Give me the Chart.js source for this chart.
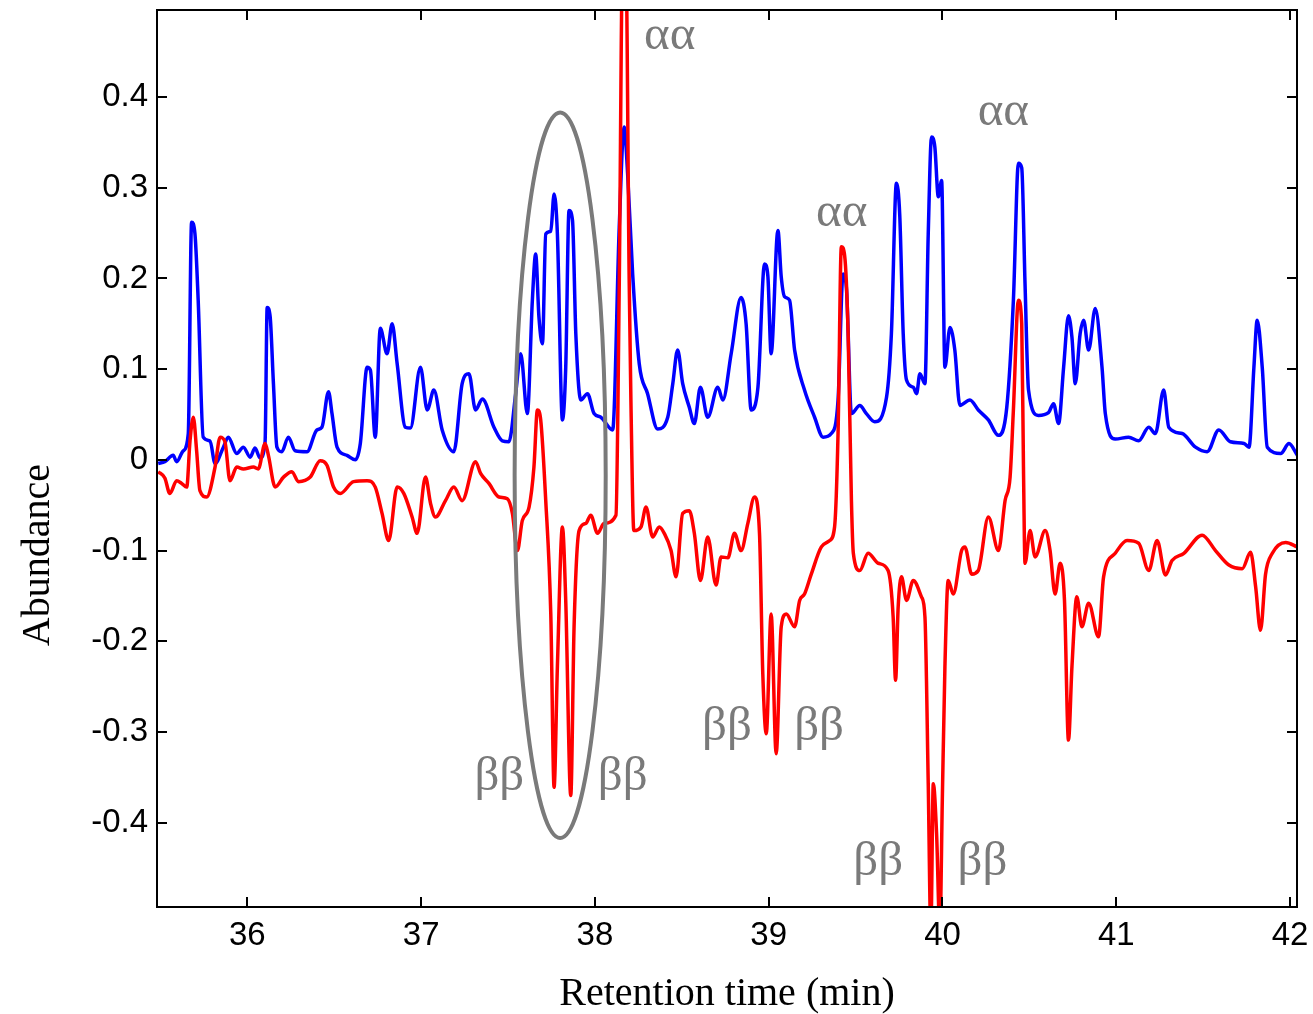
<!DOCTYPE html>
<html>
<head>
<meta charset="utf-8">
<title>Retention time vs abundance</title>
<script src="https://cdn.jsdelivr.net/npm/chart.js@4.4.1/dist/chart.umd.min.js"></script>
<style>
  html, body { margin: 0; padding: 0; background: #fff; }
  canvas { display: block; }
</style>
</head>
<body>
<canvas id="chromatogramCanvas" width="1313" height="1014"></canvas>
<script>
// Blue trace (upper chromatogram)
const blueTime = [
  35.487, 35.525, 35.573, 35.593, 35.631, 35.660, 35.679, 35.698, 35.717, 35.746,
  35.785, 35.814, 35.862, 35.890, 35.939, 35.977, 36.016, 36.044, 36.073, 36.102,
  36.114, 36.131, 36.150, 36.170, 36.198, 36.236, 36.275, 36.343, 36.400, 36.429,
  36.467, 36.487, 36.516, 36.573, 36.621, 36.650, 36.689, 36.708, 36.736, 36.765,
  36.804, 36.833, 36.862, 36.909, 36.938, 36.996, 37.035, 37.073, 37.121, 37.188,
  37.236, 37.275, 37.313, 37.352, 37.419, 37.467, 37.505, 37.544, 37.573, 37.611,
  37.640, 37.659, 37.678, 37.698, 37.717, 37.746, 37.765, 37.784, 37.813, 37.832,
  37.851, 37.871, 37.890, 37.919, 37.957, 37.995, 38.034, 38.102, 38.140, 38.168,
  38.188, 38.217, 38.255, 38.303, 38.361, 38.419, 38.448, 38.476, 38.505, 38.543,
  38.572, 38.607, 38.649, 38.707, 38.736, 38.784, 38.841, 38.870, 38.899, 38.938,
  38.976, 38.995, 39.014, 39.053, 39.072, 39.091, 39.120, 39.149, 39.206, 39.264,
  39.313, 39.360, 39.399, 39.428, 39.447, 39.476, 39.524, 39.562, 39.610, 39.678,
  39.706, 39.735, 39.754, 39.774, 39.793, 39.832, 39.851, 39.870, 39.899, 39.918,
  39.937, 39.956, 39.976, 39.995, 40.014, 40.043, 40.071, 40.100, 40.158, 40.206,
  40.264, 40.322, 40.370, 40.408, 40.437, 40.456, 40.475, 40.495, 40.552, 40.610,
  40.639, 40.668, 40.697, 40.725, 40.745, 40.764, 40.792, 40.812, 40.841, 40.879,
  40.918, 40.937, 40.994, 41.071, 41.129, 41.187, 41.225, 41.273, 41.302, 41.379,
  41.456, 41.523, 41.590, 41.657, 41.735, 41.764, 41.792, 41.811, 41.840, 41.869,
  41.946, 41.994, 42.042
];
const blueAbundance = [
  -0.004, -0.002, 0.005, -0.002, 0.010, 0.029, 0.262, 0.250, 0.176, 0.025,
  0.021, -0.004, 0.014, 0.025, 0.007, 0.014, 0.003, 0.013, 0.002, 0.020,
  0.168, 0.158, 0.084, 0.014, 0.009, 0.025, 0.010, 0.009, 0.033, 0.036,
  0.075, 0.051, 0.014, 0.005, 0.000, 0.018, 0.102, 0.099, 0.025, 0.145,
  0.117, 0.150, 0.106, 0.036, 0.035, 0.102, 0.055, 0.077, 0.033, 0.009,
  0.084, 0.095, 0.055, 0.067, 0.036, 0.021, 0.020, 0.073, 0.117, 0.051,
  0.176, 0.227, 0.157, 0.128, 0.249, 0.252, 0.293, 0.249, 0.044, 0.102,
  0.275, 0.264, 0.139, 0.066, 0.073, 0.051, 0.047, 0.033, 0.257, 0.367,
  0.316, 0.205, 0.106, 0.073, 0.034, 0.047, 0.084, 0.121, 0.084, 0.058,
  0.040, 0.080, 0.047, 0.080, 0.066, 0.117, 0.179, 0.150, 0.055, 0.080,
  0.216, 0.203, 0.117, 0.253, 0.202, 0.180, 0.176, 0.121, 0.077, 0.047,
  0.025, 0.029, 0.066, 0.205, 0.190, 0.051, 0.060, 0.051, 0.042, 0.069,
  0.139, 0.305, 0.270, 0.139, 0.088, 0.080, 0.073, 0.095, 0.084, 0.249,
  0.356, 0.345, 0.290, 0.308, 0.102, 0.146, 0.121, 0.060, 0.066, 0.055,
  0.044, 0.027, 0.058, 0.176, 0.327, 0.322, 0.194, 0.077, 0.049, 0.052,
  0.062, 0.040, 0.102, 0.159, 0.135, 0.084, 0.139, 0.154, 0.121, 0.167,
  0.102, 0.051, 0.023, 0.025, 0.021, 0.036, 0.029, 0.077, 0.036, 0.029,
  0.014, 0.009, 0.033, 0.020, 0.018, 0.014, 0.102, 0.154, 0.102, 0.014,
  0.007, 0.018, 0.005
];

// Red trace (lower chromatogram)
const redTime = [
  35.487, 35.525, 35.554, 35.593, 35.622, 35.651, 35.670, 35.689, 35.708, 35.727,
  35.766, 35.814, 35.843, 35.871, 35.900, 35.939, 35.977, 36.035, 36.063, 36.102,
  36.121, 36.160, 36.208, 36.256, 36.294, 36.362, 36.419, 36.458, 36.496, 36.535,
  36.611, 36.689, 36.736, 36.775, 36.813, 36.862, 36.900, 36.948, 36.977, 37.025,
  37.054, 37.082, 37.140, 37.188, 37.236, 37.313, 37.342, 37.390, 37.448, 37.496,
  37.525, 37.554, 37.582, 37.621, 37.649, 37.669, 37.688, 37.717, 37.746, 37.765,
  37.784, 37.813, 37.832, 37.861, 37.880, 37.909, 37.948, 37.976, 38.015, 38.053,
  38.121, 38.140, 38.159, 38.178, 38.197, 38.207, 38.224, 38.265, 38.294, 38.332,
  38.370, 38.399, 38.438, 38.467, 38.505, 38.543, 38.572, 38.607, 38.649, 38.697,
  38.726, 38.765, 38.803, 38.841, 38.880, 38.918, 38.947, 38.966, 38.986, 39.014,
  39.043, 39.072, 39.101, 39.149, 39.178, 39.206, 39.245, 39.303, 39.351, 39.379,
  39.399, 39.418, 39.437, 39.457, 39.476, 39.487, 39.524, 39.572, 39.630, 39.687,
  39.716, 39.730, 39.745, 39.764, 39.793, 39.832, 39.879, 39.899, 39.918, 39.933,
  39.947, 39.966, 39.985, 39.999, 40.014, 40.033, 40.062, 40.110, 40.129, 40.168,
  40.206, 40.264, 40.322, 40.360, 40.389, 40.408, 40.437, 40.456, 40.466, 40.475,
  40.504, 40.533, 40.591, 40.619, 40.648, 40.677, 40.702, 40.725, 40.745, 40.773,
  40.802, 40.841, 40.898, 40.927, 40.994, 41.062, 41.129, 41.187, 41.235, 41.283,
  41.321, 41.389, 41.494, 41.571, 41.648, 41.725, 41.773, 41.802, 41.830, 41.859,
  41.898, 41.975, 42.042
];
const redAbundance = [
  -0.013, -0.020, -0.037, -0.023, -0.026, -0.030, 0.021, 0.047, 0.010, -0.034,
  -0.041, -0.008, 0.025, 0.020, -0.023, -0.008, -0.010, -0.008, -0.010, 0.018,
  0.005, -0.030, -0.019, -0.013, -0.024, -0.019, -0.001, -0.006, -0.030, -0.037,
  -0.024, -0.023, -0.030, -0.059, -0.089, -0.030, -0.037, -0.063, -0.081, -0.019,
  -0.048, -0.063, -0.045, -0.030, -0.045, -0.002, -0.015, -0.026, -0.041, -0.043,
  -0.059, -0.100, -0.067, -0.052, -0.008, 0.055, 0.044, -0.045, -0.170, -0.361,
  -0.228, -0.074, -0.155, -0.370, -0.184, -0.078, -0.070, -0.061, -0.081, -0.070,
  -0.061, 0.194, 0.550, 0.550, 0.200, 0.066, -0.078, -0.074, -0.052, -0.085,
  -0.074, -0.081, -0.100, -0.129, -0.059, -0.056, -0.081, -0.133, -0.085, -0.138,
  -0.107, -0.108, -0.081, -0.100, -0.070, -0.041, -0.081, -0.236, -0.302, -0.170,
  -0.324, -0.184, -0.170, -0.184, -0.155, -0.148, -0.126, -0.096, -0.089, -0.074,
  0.029, 0.235, 0.225, 0.139, -0.045, -0.103, -0.122, -0.103, -0.114, -0.122,
  -0.173, -0.243, -0.162, -0.129, -0.155, -0.133, -0.151, -0.173, -0.357, -0.520,
  -0.357, -0.412, -0.520, -0.375, -0.228, -0.133, -0.148, -0.100, -0.096, -0.126,
  -0.122, -0.063, -0.100, -0.045, -0.019, 0.055, 0.176, 0.150, -0.008, -0.114,
  -0.078, -0.107, -0.078, -0.100, -0.148, -0.114, -0.155, -0.309, -0.228, -0.151,
  -0.184, -0.158, -0.195, -0.129, -0.103, -0.089, -0.092, -0.122, -0.089, -0.127,
  -0.111, -0.103, -0.083, -0.100, -0.116, -0.120, -0.102, -0.140, -0.188, -0.126,
  -0.103, -0.091, -0.096
];

// Axis ticks
const timeTicks = [36, 37, 38, 39, 40, 41, 42];
const abundanceTicks = [-0.4, -0.3, -0.2, -0.1, 0, 0.1, 0.2, 0.3, 0.4];

// Peak labels (placed in data units)
const labelText = ["αα", "αα", "αα", "ββ", "ββ", "ββ", "ββ", "ββ", "ββ"];
const labelTime = [38.43, 39.42, 40.35, 37.45, 38.16, 38.76, 39.29, 39.63, 40.23];
const labelAbundance = [0.467, 0.272, 0.383, -0.35, -0.35, -0.295, -0.295, -0.444, -0.444];

// Circled group of peaks: time range and abundance range of the ellipse
const circledTime = [37.538, 38.062];
const circledAbundance = [-0.417, 0.383];

document.addEventListener("DOMContentLoaded", function () {
  function toPoints(xs, ys) {
    return xs.map((t, i) => ({ x: t, y: ys[i] }));
  }

  // Box, inward ticks, ellipse and text labels
  const decorations = {
    id: "decorations",
    afterDatasetsDraw(chart) {
      const { ctx, chartArea: a, scales: { x, y } } = chart;
      ctx.save();

      // ellipse round the circled peaks
      const ex1 = x.getPixelForValue(circledTime[0]);
      const ex2 = x.getPixelForValue(circledTime[1]);
      const ey1 = y.getPixelForValue(circledAbundance[1]);
      const ey2 = y.getPixelForValue(circledAbundance[0]);
      ctx.beginPath();
      ctx.ellipse((ex1 + ex2) / 2, (ey1 + ey2) / 2, (ex2 - ex1) / 2, (ey2 - ey1) / 2, 0, 0, Math.PI * 2);
      ctx.strokeStyle = "#7a7a7a";
      ctx.lineWidth = 4;
      ctx.stroke();

      // peak labels
      ctx.fillStyle = "#7a7a7a";
      ctx.font = '49px "Liberation Serif"';
      ctx.textAlign = "center";
      ctx.textBaseline = "middle";
      labelText.forEach((txt, i) => {
        ctx.fillText(txt, x.getPixelForValue(labelTime[i]), y.getPixelForValue(labelAbundance[i]));
      });

      // frame
      ctx.strokeStyle = "#000";
      ctx.lineWidth = 2;
      ctx.strokeRect(a.left, a.top, a.width, a.height);

      // ticks pointing inwards on all four sides
      const tick = 10;
      ctx.beginPath();
      x.ticks.forEach((t) => {
        const px = Math.round(x.getPixelForValue(t.value));
        ctx.moveTo(px, a.bottom); ctx.lineTo(px, a.bottom - tick);
        ctx.moveTo(px, a.top); ctx.lineTo(px, a.top + tick);
      });
      y.ticks.forEach((t) => {
        const py = Math.round(y.getPixelForValue(t.value));
        ctx.moveTo(a.left, py); ctx.lineTo(a.left + tick, py);
        ctx.moveTo(a.right, py); ctx.lineTo(a.right - tick, py);
      });
      ctx.stroke();

      // y axis title
      ctx.fillStyle = "#000";
      ctx.font = '40px "Liberation Serif"';
      ctx.translate(38, y.getPixelForValue(-0.105));
      ctx.rotate(-Math.PI / 2);
      ctx.fillText("Abundance", 0, 0);
      ctx.restore();
    },
  };

  const ctx = document.getElementById("chromatogramCanvas").getContext("2d");
  window.chromatogramChart = new Chart(ctx, {
    type: "scatter",
    data: {
      datasets: [
        {
          label: "Red",
          data: toPoints(redTime, redAbundance),
          borderColor: "#ff0000",
          borderWidth: 3.5,
          showLine: true,
          cubicInterpolationMode: "monotone",
          pointRadius: 0,
          clip: 0,
          order: 0,
        },
        {
          label: "Blue",
          data: toPoints(blueTime, blueAbundance),
          borderColor: "#0000ff",
          borderWidth: 3.5,
          showLine: true,
          cubicInterpolationMode: "monotone",
          pointRadius: 0,
          clip: 0,
          order: 1,
        },
      ],
    },
    options: {
      responsive: false,
      animation: false,
      devicePixelRatio: 1,
      layout: { padding: { left: 0, top: 10, right: 16, bottom: 0 } },
      plugins: {
        legend: { display: false },
        tooltip: { enabled: false },
      },
      scales: {
        x: {
          type: "linear",
          min: 35.48,
          max: 42.04,
          afterBuildTicks: (s) => { s.ticks = timeTicks.map((v) => ({ value: v })); },
          afterFit: (s) => {
            s.height = 107;
            s.paddingLeft = 0; s.paddingRight = 0;
          },
          grid: { display: false, drawTicks: false },
          border: { display: false },
          ticks: {
            color: "#000",
            padding: 9,
            font: { family: "Liberation Sans", size: 33 },
            callback: (v) => String(v),
          },
          title: {
            display: true,
            text: "Retention time (min)",
            color: "#000",
            font: { family: "Liberation Serif", size: 40, lineHeight: 1 },
            padding: { top: 0, bottom: 0 },
          },
        },
        y: {
          type: "linear",
          min: -0.493,
          max: 0.496,
          afterBuildTicks: (s) => { s.ticks = abundanceTicks.map((v) => ({ value: v })); },
          afterFit: (s) => {
            s.width = 157;
            s.paddingTop = 0; s.paddingBottom = 0;
          },
          grid: { display: false, drawTicks: false },
          border: { display: false },
          ticks: {
            color: "#000",
            padding: 9,
            font: { family: "Liberation Sans", size: 33 },
            callback: (v) => String(Math.round(v * 10) / 10),
          },
        },
      },
    },
    plugins: [decorations],
  });
});
</script>
</body>
</html>
